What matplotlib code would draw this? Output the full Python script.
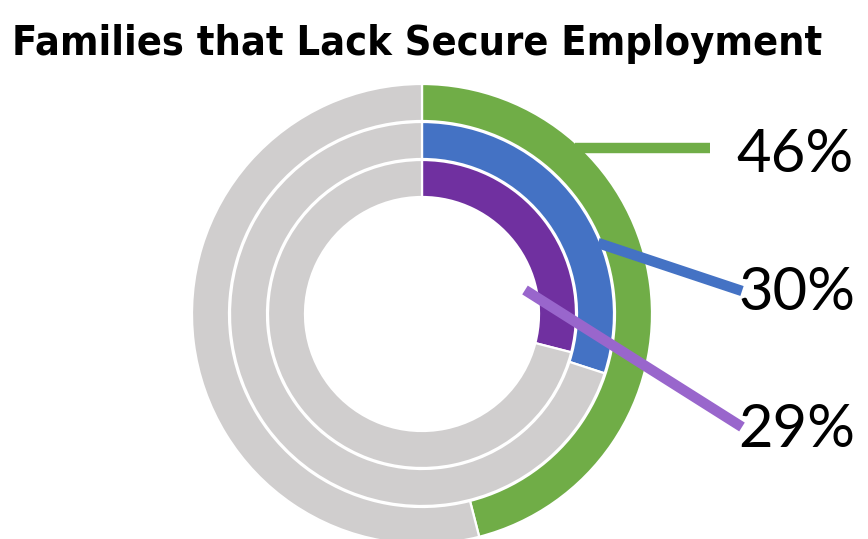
import matplotlib
matplotlib.use("Agg")
import matplotlib.pyplot as plt

# Data
series = ["Group A", "Group B", "Group C"]
values = [46, 30, 29]
colors = ["#70AD47", "#4472C4", "#7030A0"]
line_colors = ["#70AD47", "#4472C4", "#9966CC"]
gray = "#D0CECE"

W, H = 868, 539
fig = plt.figure(figsize=(W / 100, H / 100), dpi=100)
ax = fig.add_axes([0, 0, 1, 1])

cx, cy = 422, H - 314
radii = [230, 192, 154]
width = 37

for v, c, r in zip(values, colors, radii):
    ax.pie([v, 100 - v], colors=[c, gray], radius=r, center=(cx, cy),
           startangle=90, counterclock=False, frame=True,
           wedgeprops=dict(width=width, edgecolor="white", linewidth=1.6))

ax.set_xlim(0, W)
ax.set_ylim(0, H)
ax.set_aspect("equal")
ax.axis("off")

# leader lines (pixel coords, top-left origin)
leaders = [((575, 148), (710, 148)),
           ((598, 243), (742, 291)),
           ((525, 290), (742, 427))]
label_pos = [(736, 155), (738, 293), (738, 430)]
for (p0, p1), lc, v, (tx, ty) in zip(leaders, line_colors, values, label_pos):
    ax.plot([p0[0], p1[0]], [H - p0[1], H - p1[1]], color=lc, lw=7.5,
            solid_capstyle="butt", zorder=5)
    ax.text(tx, H - ty, f"{v}%", fontsize=43, family="Lato",
            va="center", ha="left", color="black")

fig.text(12 / W, 1 - 44 / H, "Families that Lack Secure Employment",
         fontsize=29.7, fontweight="bold", family="DejaVu Sans",
         fontstretch="condensed", va="center", ha="left")

fig.savefig("out.png", dpi=100)
